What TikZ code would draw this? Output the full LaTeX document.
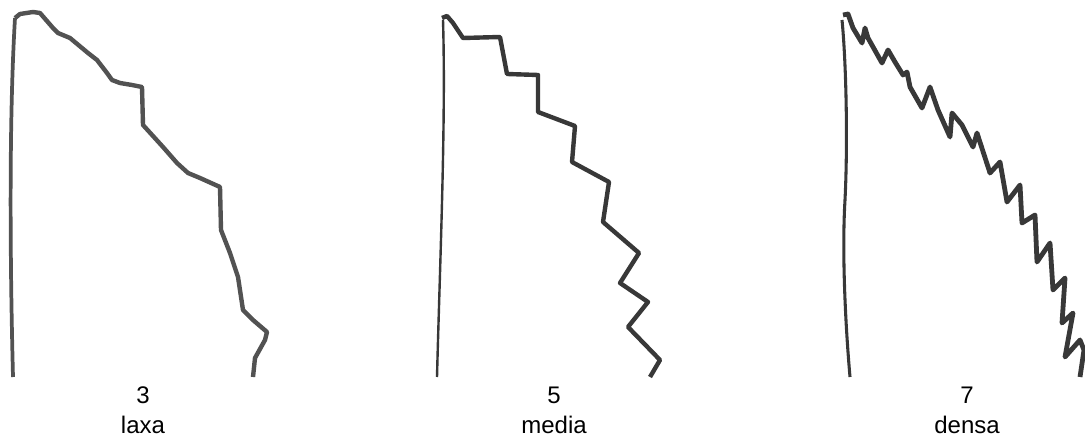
\documentclass[tikz,border=0pt]{standalone}
\usepackage{fontspec}
\setmainfont{Liberation Sans}
\usetikzlibrary{positioning}

\begin{document}
\begin{tikzpicture}[x=0.75pt, y=-0.75pt,
        edge/.style={draw=black!78, line width=3.3pt, line join=round},
        rib/.style={draw=black!78, line width=1.8pt},
        caption/.style={anchor=base, inner sep=0pt, font=\fontsize{18}{22}\selectfont}]

    \useasboundingbox (0,0) rectangle (1085,438);

    % laxa
    \draw[rib, line width=2.8pt, draw=black!68] (13,377) .. controls (10,260) and (9,120) .. (15,18);
    \draw[edge, draw=black!68] (15,18) -- (20,14) -- (33,12) -- (40,13) -- (53,28) -- (58,33) -- (70,38)
        -- (88,53) -- (97,60) -- (107,73) -- (112,80) -- (120,83) -- (132,85) -- (142,87)
        -- (143,125) -- (163,147) -- (177,163) -- (188,173) -- (200,178) -- (220,187)
        -- (221,230) -- (230,253) -- (238,277) -- (243,310) -- (253,320) -- (267,332)
        -- (265,340) -- (255,358) -- (253,377);

    % media
    \draw[rib] (437,377) .. controls (440,260) and (446,120) .. (443,20);
    \draw[edge] (442,18) -- (447,16) -- (453,23) -- (463,38) -- (500,37)
        -- (507,74) -- (538,75) -- (538,112) -- (575,126) -- (572,162) -- (609,182)
        -- (603,222) -- (639,253) -- (620,283) -- (648,302) -- (628,327) -- (660,360)
        -- (650,377);

    % densa
    \draw[rib, line width=2.3pt] (850,377) .. controls (845,320) and (842,250) .. (845,200)
        .. controls (848,140) and (846,60) .. (842,20);
    \draw[edge, line width=3.6pt] (843,15) -- (848,14) -- (853,28) -- (862,43) -- (865,28)
        -- (868,38) -- (882,63) -- (888,50) -- (895,62) -- (903,75) -- (907,72) -- (910,87)
        -- (922,108) -- (930,87) -- (938,110) -- (950,137) -- (952,113) -- (962,125)
        -- (973,147) -- (977,133) -- (990,173) -- (1000,162) -- (1007,202) -- (1020,185)
        -- (1022,223) -- (1035,215) -- (1037,262) -- (1050,243) -- (1053,290) -- (1065,278)
        -- (1062,323) -- (1073,313) -- (1065,357) -- (1080,340) -- (1084,350) -- (1080,377);

    \node[caption] (n3) at (143,403) {3};
    \node[caption] (laxa) at (143,433) {laxa};
    \node[caption] (n5) at (554,403) {5};
    \node[caption] (media) at (554,433) {media};
    \node[caption] (n7) at (967,403) {7};
    \node[caption] (densa) at (967,433) {densa};
\end{tikzpicture}
\end{document}
